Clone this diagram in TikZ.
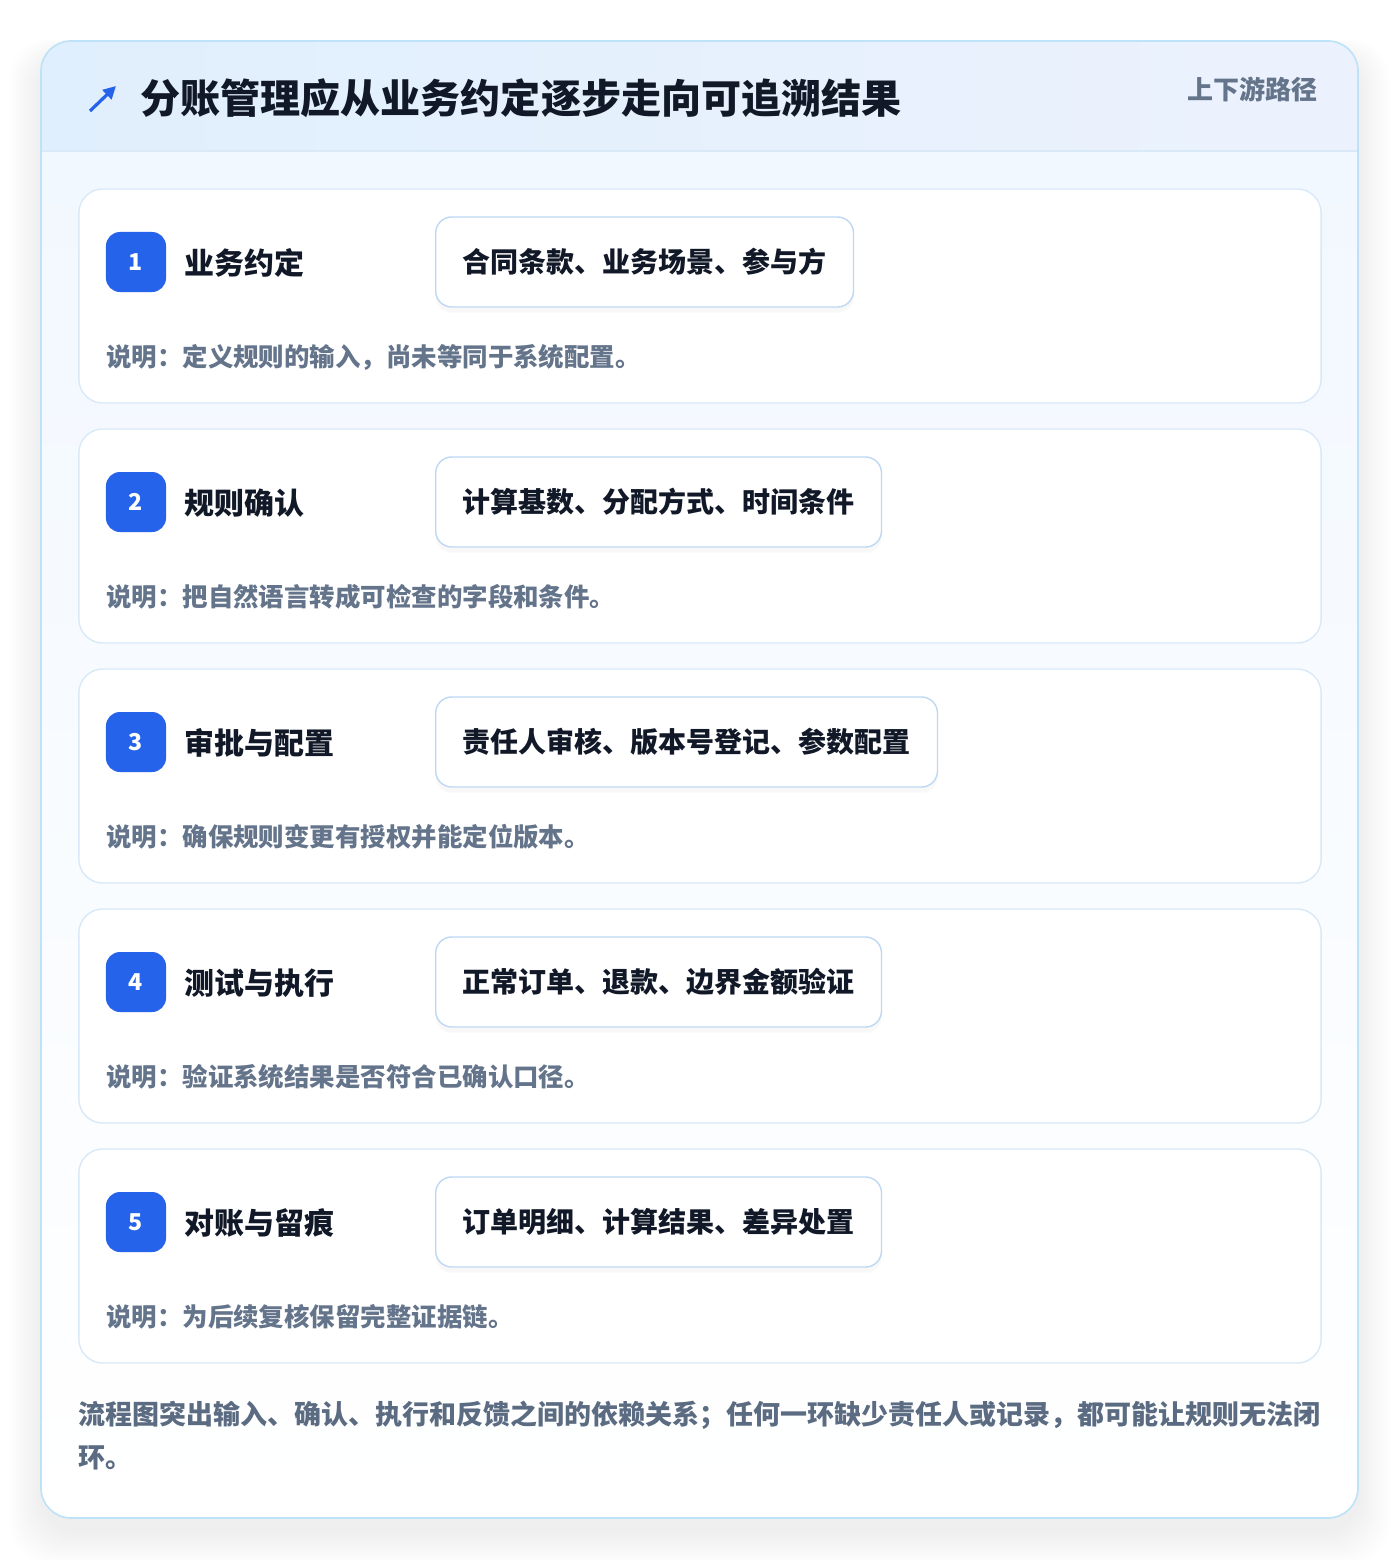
\documentclass[tikz,border=0pt]{standalone}
\usepackage{fontspec}
\setmainfont{Noto Sans CJK SC}
\usetikzlibrary{arrows.meta,shadows}
\definecolor{brand}{HTML}{2563EB}
\definecolor{ink}{HTML}{111827}
\definecolor{muted}{HTML}{64748B}
\definecolor{notecol}{HTML}{5B6B82}
\definecolor{frameline}{HTML}{BEE3F8}
\definecolor{cardline}{HTML}{D9E9F8}
\definecolor{chipline}{HTML}{BED8F4}
\definecolor{headleft}{HTML}{E0EFFD}
\definecolor{headright}{HTML}{ECF2FD}
\definecolor{bodytop}{HTML}{F2F8FF}

\begin{document}
\begin{tikzpicture}[x=0.025cm,y=-0.025cm]
   \tikzstyle{stepcard}=[draw=cardline, line width=1pt, fill=white, rounded corners=0.6cm, minimum width=31.05cm, minimum height=5.35cm]
   \tikzstyle{badge}=[fill=brand, rounded corners=0.35cm, minimum size=1.5cm, inner sep=0pt, text=white, font=\fontsize{16.5}{19}\selectfont\bfseries]
   \tikzstyle{steptitle}=[anchor=west, inner sep=0pt, text=ink, font=\fontsize{21.3}{25}\selectfont\bfseries]
   \tikzstyle{chip}=[anchor=west, draw=chipline, line width=1pt, fill=white, rounded corners=0.4cm, minimum height=2.25cm, inner xsep=0.675cm, text=ink, font=\fontsize{19.9}{24}\selectfont\bfseries, drop shadow={opacity=0.05, shadow xshift=0pt, shadow yshift=-4pt}]
   \tikzstyle{desc}=[anchor=west, inner sep=0pt, text=muted, font=\fontsize{18.1}{22}\selectfont\bfseries]
   \tikzstyle{note}=[anchor=west, inner sep=0pt, text=notecol, font=\fontsize{19.2}{23}\selectfont\bfseries]
   \useasboundingbox (0,0) rectangle (1400,1560);
   \fill[white] (0,0) rectangle (1400,1560);
   % soft shadow under the frame
   \foreach \k in {1,...,16} {
       \fill[black, opacity=0.0055, rounded corners=1cm] (41-2*\k,41+14-\k) rectangle (1358+2*\k,1518+14+2*\k);
   }
   % frame, header band and body
   \begin{scope}
      \clip[rounded corners=0.75cm] (41,41) rectangle (1358,1518);
      \shade[top color=bodytop, bottom color=white] (41,151) rectangle (1358,1518);
      \shade[left color=headleft, right color=headright] (41,41) rectangle (1358,151);
      \draw[cardline, line width=1pt] (41,151) -- (1358,151);
   \end{scope}
   \draw[frameline, line width=1.2pt, rounded corners=0.75cm] (41,41) rectangle (1358,1518);
   % header
   \coordinate (icontail) at (90,111);
   \coordinate (iconhead) at (116,86);
   \draw[brand, line width=2.3pt, -{Triangle[length=9pt,width=9pt]}] (icontail) -- (iconhead);
   \node[anchor=west, inner sep=0pt, text=ink, font=\fontsize{28.5}{34}\selectfont\bfseries] (title) at (140,98) {分账管理应从业务约定逐步走向可追溯结果};
   \node[anchor=east, inner sep=0pt, text=muted, font=\fontsize{18.5}{22}\selectfont\bfseries] (route) at (1318,89) {上下游路径};
   % steps
   \foreach \i/\name/\items/\expl in {1/{业务约定}/{合同条款、业务场景、参与方}/{定义规则的输入，尚未等同于系统配置。},
      2/{规则确认}/{计算基数、分配方式、时间条件}/{把自然语言转成可检查的字段和条件。},
      3/{审批与配置}/{责任人审核、版本号登记、参数配置}/{确保规则变更有授权并能定位版本。},
      4/{测试与执行}/{正常订单、退款、边界金额验证}/{验证系统结果是否符合已确认口径。},
      5/{对账与留痕}/{订单明细、计算结果、差异处置}/{为后续复核保留完整证据链。}} {
       \pgfmathsetmacro{\top}{240*(\i-1)}
       \node[stepcard] (card\i) at (700,296+\top) {};
       \node[badge] (num\i) at (136,262+\top) {\i};
       \node[steptitle] (name\i) at (184,263+\top) {\name};
       \node[chip] (chip\i) at (435,262+\top) {\items};
       \node[desc] (desc\i) at (106,357+\top) {说明：\expl};
   }
   % closing remark
   \node[note] (remark1) at (78,1415) {流程图突出输入、确认、执行和反馈之间的依赖关系；任何一环缺少责任人或记录，都可能让规则无法闭};
   \node[note] (remark2) at (78,1458) {环。};
\end{tikzpicture}
\end{document}
